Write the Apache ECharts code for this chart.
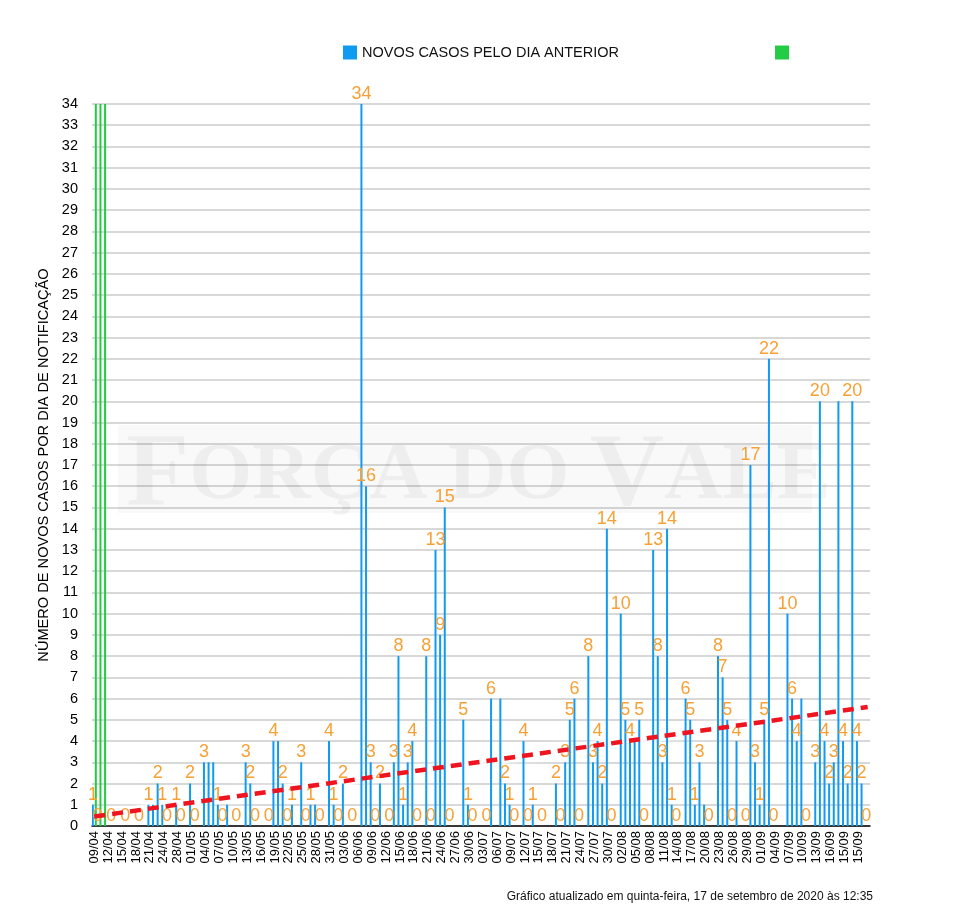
<!DOCTYPE html>
<html><head><meta charset="utf-8">
<script src="https://cdn.jsdelivr.net/npm/echarts@6/dist/echarts.min.js"></script>
<style>html,body{margin:0;padding:0;background:#fff}#c{width:957px;height:923px}</style>
</head><body><div id="c"></div>
<script>
const categories = [
'09/04','10/04','11/04','12/04','13/04','14/04','15/04','16/04','17/04','18/04','19/04','20/04','21/04','22/04','23/04','24/04','26/04','27/04','28/04','29/04','30/04',
'01/05','02/05','03/05','04/05','05/05','06/05','07/05','08/05','09/05','10/05','11/05','12/05','13/05','14/05','15/05','16/05','17/05','18/05','19/05','20/05','21/05','22/05','23/05','24/05','25/05','26/05','27/05','28/05','29/05','30/05','31/05',
'01/06','02/06','03/06','04/06','05/06','06/06','07/06','08/06','09/06','10/06','11/06','12/06','13/06','14/06','15/06','16/06','17/06','18/06','19/06','20/06','21/06','22/06','23/06','24/06','25/06','26/06','27/06','28/06','29/06','30/06',
'01/07','02/07','03/07','04/07','05/07','06/07','07/07','08/07','09/07','10/07','11/07','12/07','13/07','14/07','15/07','16/07','17/07','18/07','19/07','20/07','21/07','22/07','23/07','24/07','25/07','26/07','27/07','28/07','29/07','30/07','31/07',
'01/08','02/08','03/08','04/08','05/08','06/08','07/08','08/08','09/08','10/08','11/08','12/08','13/08','14/08','15/08','16/08','17/08','18/08','19/08','20/08','21/08','22/08','23/08','24/08','25/08','26/08','27/08','28/08','29/08','30/08','31/08',
'01/09','02/09','03/09','04/09','05/09','06/09','07/09','08/09','09/09','10/09','11/09','12/09','13/09','14/09','15/09','16/09','13/09','14/09','15/09','16/09','14/09','15/09','16/09','16/09'
];
const newCases = [
1,0,0,0,0,0,0,0,0,0,0,0,1,1,2,1,0,0,1,0,
0,2,0,0,3,3,3,1,0,1,0,0,0,3,2,0,0,0,0,4,
4,2,0,1,0,3,0,1,1,0,0,4,1,0,2,0,0,0,34,16,
3,0,2,0,0,3,8,1,3,4,0,0,8,0,13,9,15,0,0,0,
5,1,0,0,0,0,6,0,6,2,1,0,0,4,0,1,0,0,0,0,
2,0,3,5,6,0,0,8,3,4,2,14,0,0,10,5,4,4,5,0,
0,13,8,3,14,1,0,0,6,5,1,3,1,0,0,8,7,5,0,4,
0,0,17,3,1,5,22,0,0,0,10,6,4,6,0,0,3,20,4,2,
3,20,4,2,20,4,2,0
];
const otherSeries = [45,46,47];
const trendEnds = [0.45, 5.6];

const greenData = categories.map((c,i)=> i < otherSeries.length ? otherSeries[i] : null);
const trendData = categories.map((c,i)=> i===0 ? trendEnds[0] : (i===categories.length-1 ? trendEnds[1] : null));

const FONT = 'Liberation Sans, Arial, Helvetica, sans-serif';
const SERIF = 'Liberation Serif, DejaVu Serif, serif';
const chart = echarts.init(document.getElementById('c'), null, {renderer:'canvas'});
chart.setOption({
  animation:false,
  backgroundColor:'#fff',
  textStyle:{fontFamily:FONT},
  legend:{
    top:40, left:338, itemWidth:14, itemHeight:14, itemGap:156,
    textStyle:{fontSize:14.5, color:'#111', fontFamily:FONT},
    data:[{name:'NOVOS CASOS PELO DIA ANTERIOR', icon:'rect'},{name:' ', icon:'rect'}]
  },
  grid:{left:92, right:87, top:104, bottom:97, containLabel:false},
  xAxis:{
    type:'category', data:categories, boundaryGap:true,
    axisLine:{lineStyle:{color:'#000', width:1.5}},
    axisTick:{show:false},
    axisLabel:{rotate:90, interval:2, fontSize:13, lineHeight:12, color:'#000', margin:5, fontFamily:FONT},
    splitLine:{show:false}
  },
  yAxis:{
    type:'value', min:0, max:34, interval:1,
    name:'NÚMERO DE NOVOS CASOS POR DIA DE NOTIFICAÇÃO',
    nameLocation:'middle', nameGap:41, nameRotate:90,
    nameTextStyle:{fontSize:14.6, color:'#000', fontFamily:FONT},
    axisLine:{show:false}, axisTick:{show:false},
    axisLabel:{fontSize:14.5, color:'#000', margin:14, fontFamily:FONT},
    splitLine:{lineStyle:{color:'#d8d8d8', width:2}}
  },
  graphic:[
    {type:'rect', z:1, shape:{x:118, y:425, width:694, height:88}, style:{fill:'rgba(0,0,0,0.025)'}},
    {type:'text', z:1, left:'center', top:426, style:{
      text:'{b|F}{s|ORÇA DO }{b|V}{s|ALE}',
      rich:{
        b:{fontSize:103, fontFamily:SERIF, fill:'rgba(0,0,0,0.045)', fontWeight:'bold'},
        s:{fontSize:81, fontFamily:SERIF, fill:'rgba(0,0,0,0.045)', fontWeight:'bold'}
      }
    }},
    {type:'text', right:84, top:891, style:{text:'Gráfico atualizado em quinta-feira, 17 de setembro de 2020 às 12:35', fontSize:12, fill:'#111', fontFamily:FONT}}
  ],
  series:[
    {
      name:'NOVOS CASOS PELO DIA ANTERIOR', type:'bar', data:newCases,
      barWidth:2, barGap:'50%', z:3,
      itemStyle:{color:'#0f9bf2'},
      label:{show:true, position:'top', distance:1, color:'#f7a035', fontSize:18, fontFamily:FONT},
      labelLayout:{hideOverlap:true}
    },
    {
      name:' ', type:'bar', data:greenData, barWidth:2, z:3,
      itemStyle:{color:'#22cc44'}
    },
    {
      name:'trend', type:'line', data:trendData, connectNulls:true, symbol:'none', z:2,
      lineStyle:{color:'rgba(255,255,255,0.75)', width:10, shadowColor:'rgba(255,255,255,0.9)', shadowBlur:10},
      silent:true
    },
    {
      name:'trend2', type:'line', data:trendData, connectNulls:true, symbol:'none', z:5,
      lineStyle:{color:'#ee1520', width:4.5, type:[11,7]},
      silent:true
    }
  ]
});
</script></body></html>
